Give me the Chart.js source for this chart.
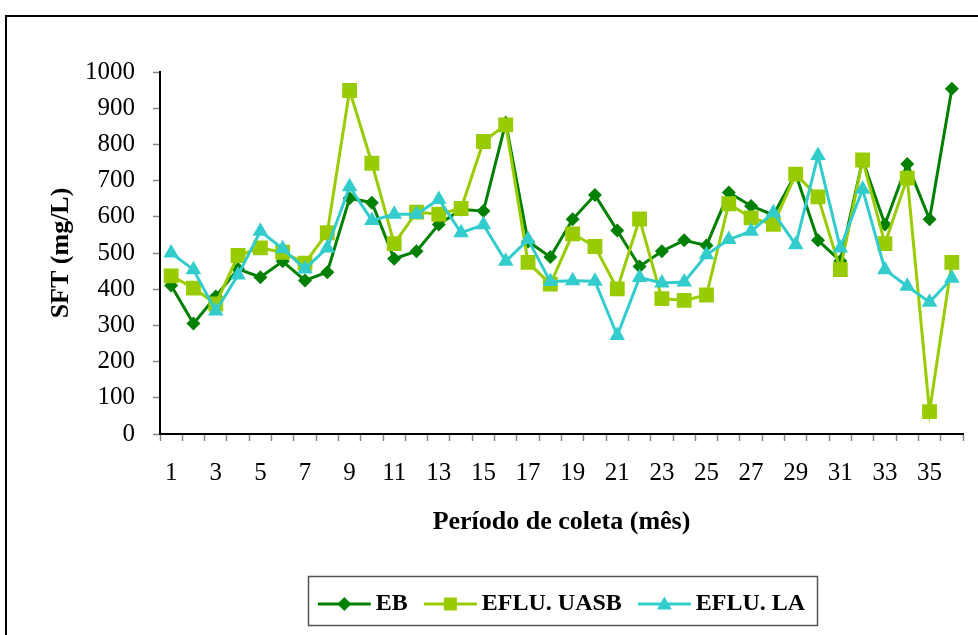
<!DOCTYPE html>
<html>
<head>
<meta charset="utf-8">
<title>SFT</title>
<script src="https://cdn.jsdelivr.net/npm/chart.js@4/dist/chart.umd.min.js"></script>
<style>
  html, body { margin: 0; padding: 0; background: #ffffff; }
  #wrap { width: 978px; height: 635px; position: relative; }
</style>
</head>
<body>
<div id="wrap"><canvas id="c" width="978" height="635"></canvas></div>
<script>
// Collection months
const categories = ['1','2','3','4','5','6','7','8','9','10','11','12','13','14','15','16','17','18',
                    '19','20','21','22','23','24','25','26','27','28','29','30','31','32','33','34','35','36'];

// Total fixed solids (mg/L) per month
const ebValues   = [410, 305, 380, 456, 433, 477, 424, 447, 651, 639, 484, 505, 579, 620, 616, 860, 532, 489,
                    593, 660, 562, 463, 505, 535, 521, 667, 630, 605, 718, 535, 478, 757, 579, 746, 593, 954];
const uasbValues = [437, 403, 359, 493, 514, 502, 472, 556, 949, 748, 526, 613, 607, 623, 808, 854, 474, 414,
                    553, 518, 401, 594, 374, 369, 384, 636, 597, 579, 718, 655, 454, 757, 526, 707, 62, 474];
const laValues   = [500, 454, 340, 439, 560, 512, 456, 514, 683, 590, 607, 607, 648, 556, 578, 477, 537, 421,
                    423, 422, 272, 432, 417, 420, 495, 537, 560, 611, 523, 769, 514, 676, 454, 408, 364, 430];

const seriesNames = ['EB', 'EFLU. UASB', 'EFLU. LA'];
const yTicks = { min: 0, max: 1000, step: 100 };

const COLORS = ['#008000', '#99CC00', '#33CCCC'];
const SERIF = "'Liberation Serif', 'Times New Roman', serif";

// Legend swatch: a short line with the series marker in the middle
function legendSwatch(color, shape) {
  const cv = document.createElement('canvas');
  cv.width = 66; cv.height = 24;
  const g = cv.getContext('2d');
  g.strokeStyle = color; g.fillStyle = color; g.lineWidth = 3;
  g.beginPath(); g.moveTo(10, 12); g.lineTo(63, 12); g.stroke();
  const cx = 36.5, cy = 12;
  g.beginPath();
  if (shape === 'diamond') {
    g.moveTo(cx, cy - 7); g.lineTo(cx + 7, cy); g.lineTo(cx, cy + 7); g.lineTo(cx - 7, cy);
  } else if (shape === 'square') {
    g.rect(cx - 6.5, cy - 6.5, 13, 13);
  } else {
    g.moveTo(cx, cy - 7.5); g.lineTo(cx + 7.5, cy + 5.5); g.lineTo(cx - 7.5, cy + 5.5);
  }
  g.closePath(); g.fill();
  return cv;
}
const swatches = [
  legendSwatch(COLORS[0], 'diamond'),
  legendSwatch(COLORS[1], 'square'),
  legendSwatch(COLORS[2], 'triangle')
];

// Outer frame and the box around the legend
const framePlugin = {
  id: 'frame',
  afterDraw(chart) {
    const ctx = chart.ctx;
    ctx.save();
    ctx.strokeStyle = '#000';
    ctx.lineWidth = 2;
    ctx.beginPath();
    ctx.moveTo(6, chart.height + 2);
    ctx.lineTo(6, 16);
    ctx.lineTo(chart.width + 2, 16);
    ctx.stroke();

    const lg = chart.legend;
    if (lg && lg.lineWidths) {
      const pad = lg.options.labels.padding;
      const rowW = lg.lineWidths[0];
      const start = (lg.left + pad + lg.right - rowW) / 2;
      const x0 = Math.round(start - 10) + 0.5;
      const x1 = Math.round(start + rowW - pad + 12) + 0.5;
      const y0 = Math.round(lg.top) + 0.5;
      const y1 = Math.round(lg.bottom) - 0.5;
      ctx.strokeStyle = '#555';
      ctx.lineWidth = 1.5;
      ctx.strokeRect(x0, y0, x1 - x0, y1 - y0);
    }
    ctx.restore();
  }
};

const datasets = [
  { label: seriesNames[0], data: ebValues, borderColor: COLORS[0], backgroundColor: COLORS[0],
    pointStyle: 'rectRot', pointRadius: 7, pointHoverRadius: 7, order: 3 },
  { label: seriesNames[1], data: uasbValues, borderColor: COLORS[1], backgroundColor: COLORS[1],
    pointStyle: 'rect', pointRadius: 10.5, pointHoverRadius: 10.5, order: 2 },
  { label: seriesNames[2], data: laValues, borderColor: COLORS[2], backgroundColor: COLORS[2],
    pointStyle: 'triangle', pointRadius: 9, pointHoverRadius: 9, order: 1 }
].map(d => Object.assign({ borderWidth: 3, pointBorderWidth: 0, tension: 0, fill: false }, d));

new Chart(document.getElementById('c'), {
  type: 'line',
  data: { labels: categories, datasets },
  plugins: [framePlugin],
  options: {
    responsive: false,
    devicePixelRatio: 1,
    animation: false,
    layout: { padding: { left: 30, right: 15, top: 72, bottom: 9 } },
    plugins: {
      tooltip: { enabled: false },
      legend: {
        position: 'bottom',
        fullSize: false,
        labels: {
          usePointStyle: true,
          pointStyleWidth: 46,
          padding: 16,
          color: '#000',
          font: { family: SERIF, size: 24, weight: 'bold' },
          generateLabels: (chart) => chart.data.datasets.map((ds, i) => ({
            text: ds.label,
            pointStyle: swatches[i],
            fillStyle: ds.borderColor,
            strokeStyle: ds.borderColor,
            lineWidth: 0,
            hidden: false,
            datasetIndex: i,
            fontColor: '#000'
          }))
        }
      }
    },
    scales: {
      x: {
        type: 'category',
        offset: true,
        afterFit: (s) => { s.height = 142; },
        border: { color: '#000', width: 2 },
        grid: { offset: true, drawOnChartArea: false, drawTicks: true, tickLength: 7,
                tickColor: '#888', tickWidth: 1.5 },
        ticks: {
          autoSkip: false, maxRotation: 0, minRotation: 0, padding: 17, color: '#000',
          font: { family: SERIF, size: 25 },
          callback: (v, i) => (i % 2 === 0 ? categories[i] : '')
        },
        title: {
          display: true, text: 'Período de coleta (mês)', color: '#000',
          font: { family: SERIF, size: 26, weight: 'bold' },
          padding: { top: 0, bottom: 38 }
        }
      },
      y: {
        min: yTicks.min, max: yTicks.max,
        afterFit: (s) => { s.width = 130; },
        border: { color: '#000', width: 2 },
        grid: { drawOnChartArea: false, drawTicks: true, tickLength: 7,
                tickColor: '#888', tickWidth: 1.5 },
        ticks: { stepSize: yTicks.step, padding: 18, color: '#000',
                 font: { family: SERIF, size: 25 },
                 callback: (v) => String(v) },
        title: {
          display: true, text: 'SFT (mg/L)', color: '#000',
          font: { family: SERIF, size: 26, weight: 'bold' },
          padding: { top: 16, bottom: 0 }
        }
      }
    }
  }
});
</script>
</body>
</html>
